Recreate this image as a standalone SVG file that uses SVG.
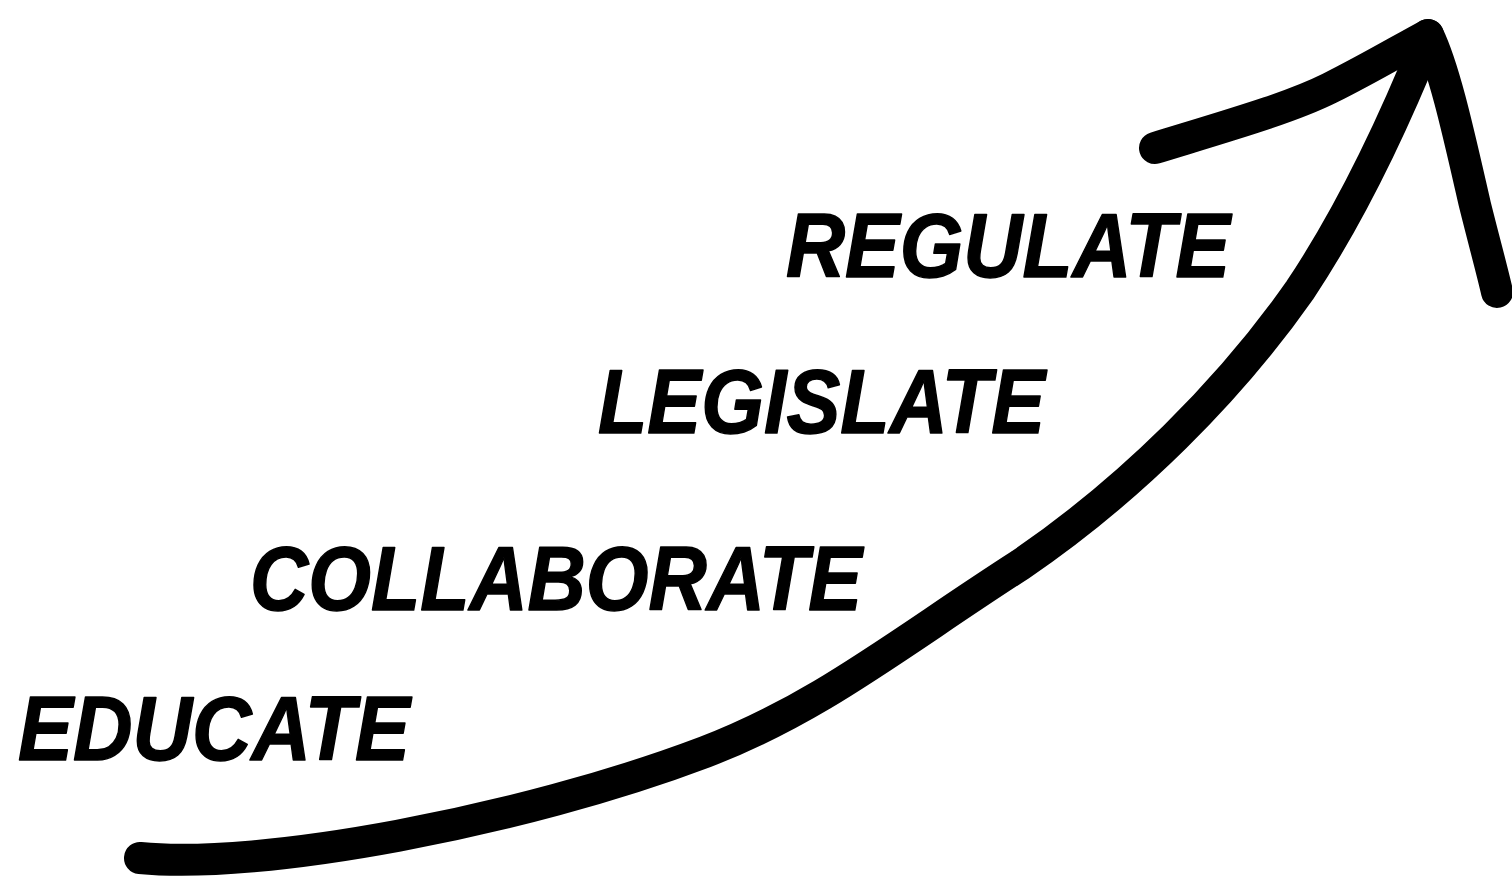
<svg xmlns="http://www.w3.org/2000/svg" width="1512" height="889" viewBox="0 0 1512 889">
<style>
.stroke{fill:none;stroke:#000;stroke-width:32;stroke-linecap:round;stroke-linejoin:round}
.lbl{font-family:"Liberation Sans","DejaVu Sans",sans-serif;font-weight:bold;font-style:italic;font-size:90px;fill:#000;stroke:#000;stroke-width:1.5;stroke-linejoin:round}
</style>
<rect width="1512" height="889" fill="#fff"/>
<g id="connectors">
<path id="arrow-shaft" class="stroke" d="M140,858 C260,870 520,822 705,752 C820,708 900,642 1020,565 C1130,490 1230,390 1300,290 C1350,215 1395,120 1428,38"/>
<path id="arrow-head-left" class="stroke" d="M1155,148 C1230,125 1290,108 1330,88 C1370,68 1400,50 1428,35"/>
<path id="arrow-head-right" class="stroke" d="M1428,35 C1445,70 1460,140 1475,205 C1485,245 1492,270 1497,292"/>
</g>
<g id="node-regulate"><text class="lbl" x="786" y="277" textLength="444" lengthAdjust="spacingAndGlyphs">REGULATE</text></g>
<g id="node-legislate"><text class="lbl" x="598" y="433" textLength="447" lengthAdjust="spacingAndGlyphs">LEGISLATE</text></g>
<g id="node-collaborate"><text class="lbl" x="250" y="610" textLength="612" lengthAdjust="spacingAndGlyphs">COLLABORATE</text></g>
<g id="node-educate"><text class="lbl" x="18" y="760" textLength="392" lengthAdjust="spacingAndGlyphs">EDUCATE</text></g>
</svg>
